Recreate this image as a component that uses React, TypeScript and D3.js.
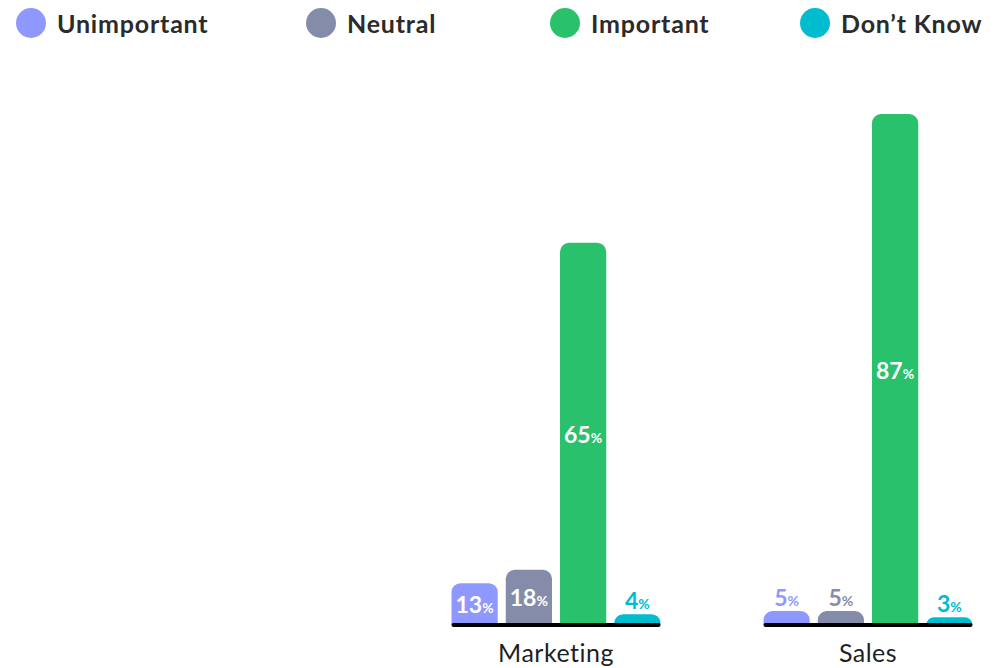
import React from "react";
import * as d3 from "d3";

const categories = ["Marketing", "Sales"];
const series = ["Unimportant", "Neutral", "Important", "Don’t Know"];
const colors = ["#8f98ff", "#858caa", "#29c16c", "#00bccf"];
// labelled percentages
const shownPct: number[][] = [
  [13, 18, 65, 4],
  [5, 5, 87, 3],
];
// bar heights as drawn (read against the tall bars' scale)
const barPct: number[][] = [
  [6.8, 9.1, 65, 1.5],
  [2.05, 2.05, 87, 1.0],
];

const W = 1001;
const H = 668;
const legendX = [31, 321, 565, 815];

export default function App() {
  const x0 = d3.scaleBand<string>().domain(categories).range([400, 1024]);
  const x1 = d3
    .scaleBand<string>()
    .domain(series)
    .range([0, 209])
    .paddingInner(0.148)
    .paddingOuter(0);
  const y = d3.scaleLinear().domain([0, 100]).range([623, 38]);
  const groupW = 209;
  const font = "Lato, 'Open Sans', sans-serif";

  const barPath = (x: number, w: number, top: number, bottom: number) => {
    const h = bottom - top;
    const r = Math.min(9, h, w / 2);
    const p = d3.path();
    p.moveTo(x, bottom);
    p.lineTo(x, top + r);
    p.arcTo(x, top, x + r, top, r);
    p.lineTo(x + w - r, top);
    p.arcTo(x + w, top, x + w, top + r, r);
    p.lineTo(x + w, bottom);
    p.closePath();
    return p.toString();
  };

  return (
    <svg
      width={W}
      height={H}
      style={{ position: "absolute", left: 0, top: 0, background: "#fff" }}
    >
      {series.map((s, i) => (
        <g key={s}>
          <circle cx={legendX[i]} cy={23} r={15} fill={colors[i]} />
          <text
            x={legendX[i] + 26}
            y={33}
            fontFamily={font}
            fontWeight={700}
            fontSize={25}
            letterSpacing={0.8}
            fill="#2b2b2b"
          >
            {s}
          </text>
        </g>
      ))}
      {categories.map((c, ci) => {
        const gx = (x0(c) as number) + (x0.bandwidth() - groupW) / 2;
        return (
          <g key={c}>
            {series.map((s, si) => {
              const bx = gx + (x1(s) as number);
              const bw = x1.bandwidth();
              const top = y(barPct[ci][si]);
              const bottom = y(0);
              const h = bottom - top;
              const inside = h > 30;
              const ly = inside ? (top + bottom) / 2 + 10 : top - 5;
              return (
                <g key={s}>
                  <path d={barPath(bx, bw, top, bottom + 2)} fill={colors[si]} />
                  <text
                    x={bx + bw / 2}
                    y={ly}
                    textAnchor="middle"
                    fontFamily={font}
                    fontWeight={700}
                    fill={inside ? "#ffffff" : colors[si]}
                  >
                    <tspan fontSize={23}>{shownPct[ci][si]}</tspan>
                    <tspan fontSize={14}>%</tspan>
                  </text>
                </g>
              );
            })}
            <line
              x1={gx + 2}
              x2={gx + groupW - 2}
              y1={y(0) + 2}
              y2={y(0) + 2}
              stroke="#000"
              strokeWidth={4}
              strokeLinecap="round"
            />
            <text
              x={gx + groupW / 2}
              y={662}
              textAnchor="middle"
              fontFamily={font}
              fontSize={25}
              letterSpacing={0.5}
              fill="#1f1f1f"
            >
              {c}
            </text>
          </g>
        );
      })}
    </svg>
  );
}
